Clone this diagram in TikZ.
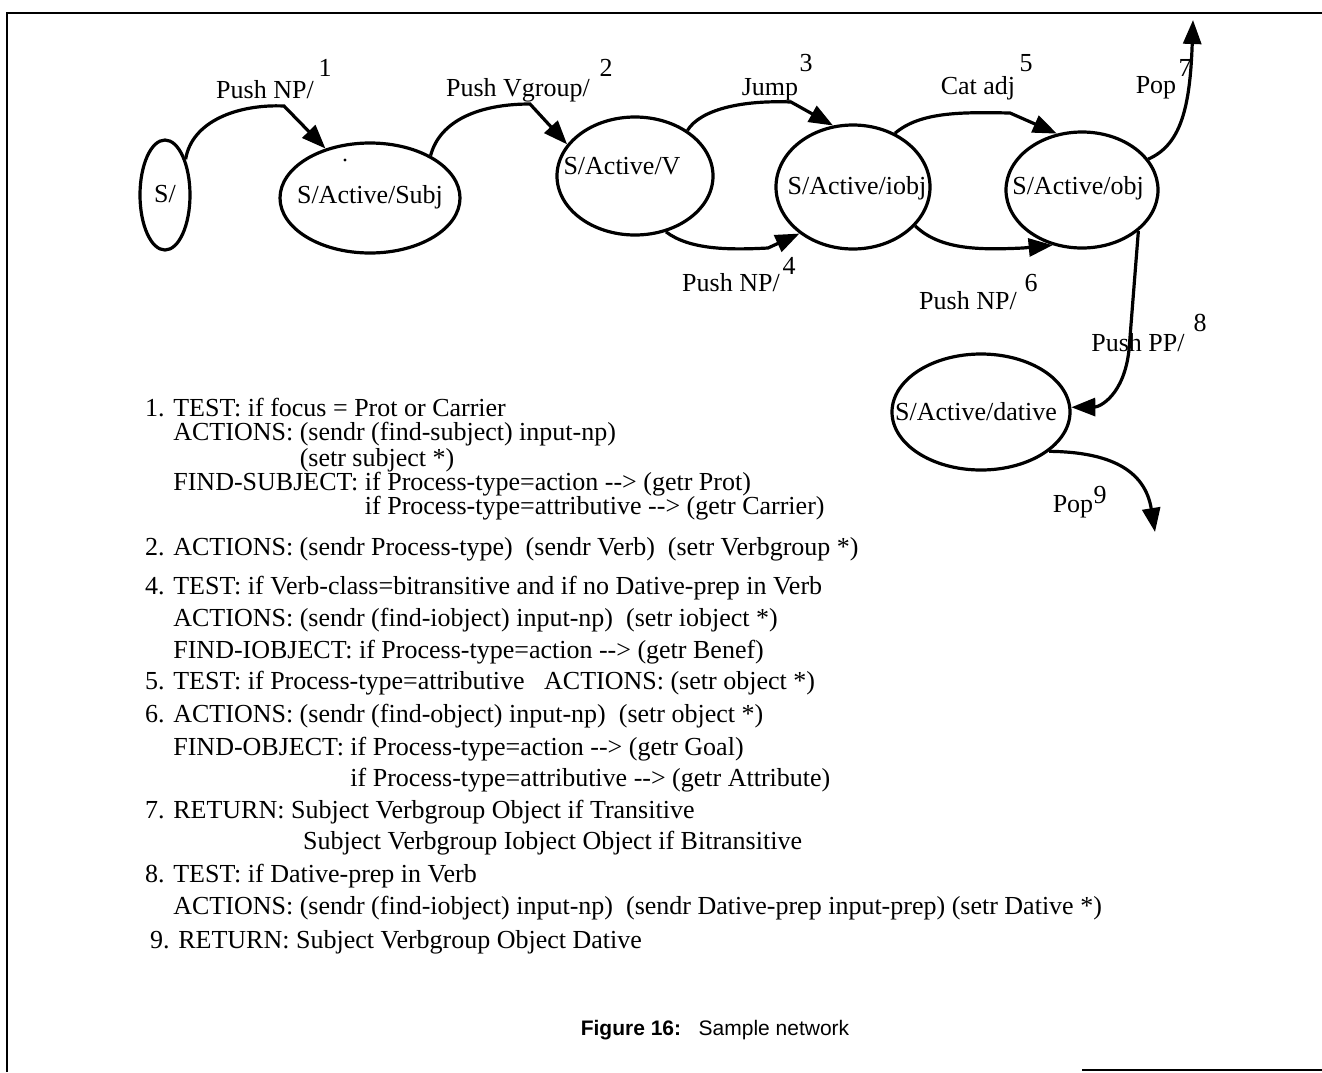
\documentclass[tikz,border=0pt]{standalone}
\usepackage{fontspec}
\setmainfont{Liberation Serif}
\newfontfamily\capfont{Liberation Sans}
\usetikzlibrary{arrows.meta,shapes.geometric}
\begin{document}
\begin{tikzpicture}[x=1pt,y=-1pt,
  st/.style={draw,ellipse,line width=3.2pt,inner sep=0pt},
  edge/.style={line width=3.2pt,-{Triangle[length=24pt,width=18pt]}},
  txt/.style={inner sep=0pt,font=\fontsize{26}{30}\selectfont},
  ln/.style={txt,anchor=west,text height=18pt,text depth=6pt},
  frame/.style={line width=2.5pt}]
\useasboundingbox (0,0) rectangle (1322,1072);
% frame
\draw[frame] (7,1072) -- (7,13) -- (1322,13);
\draw[frame] (1082,1070) -- (1322,1070);
% states
\node[st,minimum width=50pt,minimum height=110pt] (s) at (165,195) {};
\node[txt] (s-t) at (165,194) {S/};
\node[st,minimum width=180pt,minimum height=110pt] (subj) at (370,198) {};
\node[txt] (subj-t) at (370,197) {S/Active/Subj};
\fill (345,160) circle (1.6pt);
\node[st,minimum width=156pt,minimum height=118pt] (v) at (635,176) {};
\node[txt] (v-t) at (622,166) {S/Active/V};
\node[st,minimum width=154pt,minimum height=124pt] (i) at (853,187) {};
\node[txt] (i-t) at (857,188) {S/Active/iobj};
\node[st,minimum width=152pt,minimum height=116pt] (o) at (1082,190) {};
\node[txt] (o-t) at (1078,188) {S/Active/obj};
\node[st,minimum width=178pt,minimum height=116pt] (d) at (981,412) {};
\node[txt] (d-t) at (976,412) {S/Active/dative};
% bend points
\coordinate (c1) at (284,106);
\coordinate (c2) at (530,104);
\coordinate (c3) at (791,102);
\coordinate (c4) at (768,248);
\coordinate (c5) at (1010,113);
\coordinate (c6) at (1023,248);
\coordinate (k8) at (1129,350);
\coordinate (p7) at (1193,20);
\coordinate (p9) at (1155,532);
% arcs
\draw[edge] (s.60) .. controls (192,120) and (240,104) .. (c1) -- (subj.132);
\draw[edge] (subj.35) .. controls (440,120) and (480,104) .. (c2) -- (v.155);
\draw[edge] (v.41) .. controls (700,110) and (740,100) .. (c3) -- (i.108);
\draw[edge] (v.-61) .. controls (690,250) and (730,250) .. (c4) -- (i.-139);
\draw[edge] (i.52) .. controls (920,112) and (960,112) .. (c5) -- (o.114);
\draw[edge] (i.-32) .. controls (940,250) and (980,250) .. (c6) -- (o.-118);
\draw[edge] (o.25) .. controls (1180,145) and (1190,110) .. (p7);
\draw[edge] (o.-36) -- (k8) .. controls (1124,395) and (1100,407) .. (d.3);
\draw[edge] (d.-30) .. controls (1110,452) and (1145,470) .. (p9);
% arc labels
\node[txt] (l1) at (265,90) {Push NP/};
\node[txt] (n1) at (325,68) {1};
\node[txt] (l2) at (518,90) {Push Vgroup/};
\node[txt] (n2) at (606,68) {2};
\node[txt] (l3) at (770,90) {Jump};
\node[txt] (n3) at (806,63) {3};
\node[txt] (l4) at (731,283) {Push NP/};
\node[txt] (n4) at (789,266) {4};
\node[txt] (l5) at (978,88) {Cat adj};
\node[txt] (n5) at (1026,63) {5};
\node[txt] (l6) at (968,301) {Push NP/};
\node[txt] (n6) at (1031,283) {6};
\node[txt] (l7) at (1156,88) {Pop};
\node[txt] (n7) at (1185,68) {7};
\node[txt] (l8) at (1138,343) {Push PP/};
\node[txt] (n8) at (1200,323) {8};
\node[txt] (l9) at (1073,507) {Pop};
\node[txt] (n9) at (1100,495) {9};
% arc descriptions
\node[ln] (t1) at (145,410) {1. TEST: if focus = Prot or Carrier};
\node[ln] (t2) at (145,434) {\phantom{1. }ACTIONS: (sendr (find-subject) input-np)};
\node[ln] (t3) at (145,460) {\phantom{1. ACTIONS: }(setr subject *)};
\node[ln] (t4) at (145,484) {\phantom{1. }FIND-SUBJECT: if Process-type=action {-}{-}> (getr Prot)};
\node[ln] (t5) at (145,508) {\phantom{1. FIND-SUBJECT: }if Process-type=attributive {-}{-}> (getr Carrier)};
\node[ln] (t6) at (145,549) {2. ACTIONS: (sendr Process-type)\ \ (sendr Verb)\ \ (setr Verbgroup *)};
\node[ln] (t7) at (145,588) {4. TEST: if Verb-class=bitransitive and if no Dative-prep in Verb};
\node[ln] (t8) at (145,620) {\phantom{4. }ACTIONS: (sendr (find-iobject) input-np)\ \ (setr iobject *)};
\node[ln] (t9) at (145,652) {\phantom{4. }FIND-IOBJECT: if Process-type=action {-}{-}> (getr Benef)};
\node[ln] (t10) at (145,683) {5. TEST: if Process-type=attributive\ \ \ ACTIONS: (setr object *)};
\node[ln] (t11) at (145,716) {6. ACTIONS: (sendr (find-object) input-np)\ \ (setr object *)};
\node[ln] (t12) at (145,749) {\phantom{6. }FIND-OBJECT: if Process-type=action {-}{-}> (getr Goal)};
\node[ln] (t13) at (145,780) {\phantom{6. FIND-OBJECT: }if Process-type=attributive {-}{-}> (getr Attribute)};
\node[ln] (t14) at (145,812) {7. RETURN: Subject Verbgroup Object if Transitive};
\node[ln] (t15) at (157,843) {\phantom{7. RETURN: }Subject Verbgroup Iobject Object if Bitransitive};
\node[ln] (t16) at (145,876) {8. TEST: if Dative-prep in Verb};
\node[ln] (t17) at (145,908) {\phantom{8. }ACTIONS: (sendr (find-iobject) input-np)\ \ (sendr Dative-prep input-prep) (setr Dative *)};
\node[ln] (t18) at (150,942) {9. RETURN: Subject Verbgroup Object Dative};
% caption
\node[inner sep=0pt,font=\capfont\fontsize{21}{24}\selectfont] (cap) at (715,1030) {\textbf{Figure 16:}\ \ \ Sample network};
\end{tikzpicture}
\end{document}
